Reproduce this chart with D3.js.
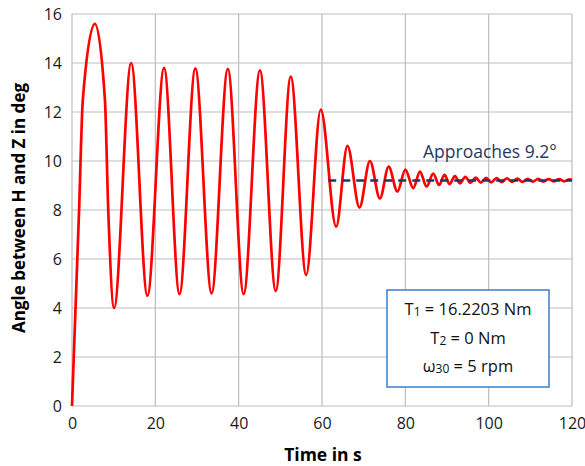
<!DOCTYPE html>
<html>
<head>
<meta charset="utf-8">
<script src="https://cdn.jsdelivr.net/npm/d3@7"></script>
<style>
  body { margin: 0; background: #fff; }
</style>
</head>
<body>
<svg id="graph"></svg>
<script>
// time (s) and angle (deg) at peaks, troughs and on the first rise
const timeS = [0, 1.7, 2.6, 5.5, 7.9, 8.7, 10.1,
    14.2, 18.1, 22.1, 25.8, 29.6, 33.5, 37.4, 41.2, 45.1, 48.9, 52.5, 56.2, 59.7, 63.4,
    66.1, 69.0, 71.5, 73.9, 76.0, 78.1, 80.0, 81.9, 83.5, 85.1, 86.7, 88.1,
    89.4, 90.6, 91.9, 93.1, 94.4, 95.6, 96.9, 98.1, 99.4, 100.6, 101.9, 103.1,
    104.4, 105.6, 106.9, 108.1, 109.4, 110.6, 111.9, 113.1, 114.4, 115.6, 116.9,
    118.1, 119.4, 120];
const angleDeg = [0, 8.0, 12.5, 15.6, 12.5, 8.0, 4.0,
    14.0, 4.5, 13.8, 4.57, 13.78, 4.6, 13.76, 4.57, 13.7, 4.7, 13.44, 5.35, 12.1, 7.32,
    10.62, 8.1, 10.0, 8.47, 9.77, 8.75, 9.65, 8.89, 9.57, 8.96, 9.49, 9.02,
    9.43, 9.06, 9.38, 9.09, 9.35, 9.11, 9.32, 9.12, 9.31, 9.13, 9.30, 9.14,
    9.29, 9.15, 9.28, 9.15, 9.27, 9.16, 9.27, 9.16, 9.26, 9.17, 9.26,
    9.17, 9.25, 9.22];

// dashed "approaches" level
const approachT = [61.5, 120];
const approachV = [9.2, 9.2];

const xTicks = [0, 20, 40, 60, 80, 100, 120];
const yTicks = [0, 2, 4, 6, 8, 10, 12, 14, 16];

const width = 585, height = 466;
const svg = d3.select("#graph")
    .attr("width", width)
    .attr("height", height)
    .attr("viewBox", [0, 0, width, height])
    .style("font-family", "'Open Sans', sans-serif");

// scales
const x_scale = d3.scaleLinear().domain([0, 120]).range([72, 572]);
const y_scale = d3.scaleLinear().domain([0, 16]).range([406, 14]);

// grid lines
const grid = svg.append("g");
grid.selectAll(".vx").data(xTicks).join("line")
    .attr("x1", d => x_scale(d)).attr("x2", d => x_scale(d))
    .attr("y1", y_scale(0)).attr("y2", y_scale(16))
    .attr("stroke", "#bdbdbd").attr("stroke-width", 1.2);
grid.selectAll(".hy").data(yTicks).join("line")
    .attr("x1", x_scale(0)).attr("x2", x_scale(120))
    .attr("y1", d => y_scale(d)).attr("y2", d => y_scale(d))
    .attr("stroke", "#bdbdbd").attr("stroke-width", 1.2);

// axes, only labels
const x_axis = d3.axisBottom(x_scale).tickValues(xTicks).tickSize(0).tickPadding(12);
const gX = svg.append("g")
    .attr("transform", `translate(0, ${y_scale(0)})`)
    .call(x_axis);
gX.select(".domain").remove();
gX.selectAll("text")
    .style("font-size", "16px")
    .style("font-family", "'Open Sans', sans-serif")
    .attr("fill", "#1a1a1a");

const y_axis = d3.axisLeft(y_scale).tickValues(yTicks).tickSize(0).tickPadding(10);
const gY = svg.append("g")
    .attr("transform", `translate(${x_scale(0)}, 0)`)
    .call(y_axis);
gY.select(".domain").remove();
gY.selectAll("text")
    .style("font-size", "16px")
    .style("font-family", "'Open Sans', sans-serif")
    .attr("fill", "#1a1a1a");

// axis titles
svg.append("text")
    .attr("x", 323).attr("y", 461)
    .attr("text-anchor", "middle")
    .style("font-size", "17.5px").style("font-weight", "bold")
    .text("Time in s");

svg.append("text")
    .attr("transform", "translate(25, 208) rotate(-90)")
    .attr("text-anchor", "middle")
    .style("font-size", "17px").style("font-weight", "bold")
    .text("Angle between H and Z in deg");

// the angle curve
const line = d3.line()
    .x((d, i) => x_scale(timeS[i]))
    .y(d => y_scale(d))
    .curve(d3.curveMonotoneX);

svg.append("path")
    .datum(angleDeg)
    .attr("d", line)
    .attr("fill", "none")
    .attr("stroke", "#ff0000")
    .attr("stroke-width", 2.7)
    .attr("stroke-linejoin", "round");

// dashed level line
svg.append("path")
    .datum(approachV)
    .attr("d", d3.line().x((d, i) => x_scale(approachT[i])).y(d => y_scale(d)))
    .attr("stroke", "#1f3864")
    .attr("stroke-width", 2.5)
    .attr("stroke-dasharray", "8,6")
    .attr("fill", "none");

svg.append("text")
    .attr("x", 423).attr("y", 158)
    .attr("fill", "#1f3864")
    .style("font-size", "17.5px")
    .text("Approaches 9.2\u00b0");

// parameter box
const box = svg.append("g");
box.append("rect")
    .attr("x", 387).attr("y", 290)
    .attr("width", 162).attr("height", 97)
    .attr("fill", "#fff")
    .attr("stroke", "#3a7dca")
    .attr("stroke-width", 1.5);

const boxLines = [
    { base: "T", sub: "1", rest: " = 16.2203 Nm", y: 315 },
    { base: "T", sub: "2", rest: " = 0 Nm", y: 343.5 },
    { base: "\u03c9", sub: "30", rest: " = 5 rpm", y: 372 }
];
boxLines.forEach(l => {
    const t = box.append("text")
        .attr("x", 468).attr("y", l.y)
        .attr("text-anchor", "middle")
        .style("font-size", "16.5px")
        .attr("fill", "#111");
    t.append("tspan").text(l.base);
    t.append("tspan").attr("dy", 1).style("font-size", "12px").text(l.sub);
    t.append("tspan").attr("dy", -1).text(l.rest);
});
</script>
</body>
</html>
